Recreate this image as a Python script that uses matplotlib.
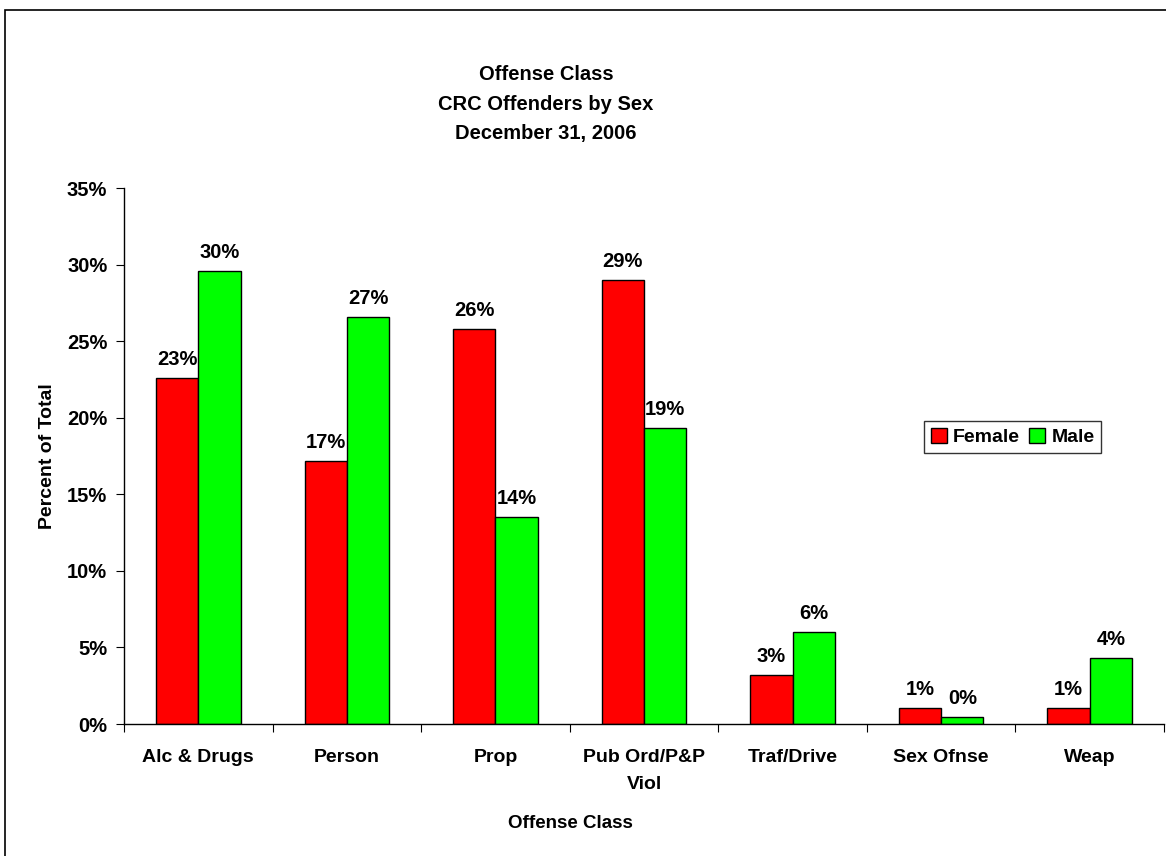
import matplotlib
matplotlib.use("Agg")
import matplotlib.pyplot as plt
from matplotlib.patches import Rectangle
import numpy as np

categories = ["Alc & Drugs", "Person", "Prop", "Pub Ord/P&P\nViol", "Traf/Drive", "Sex Ofnse", "Weap"]
female = [22.6, 17.2, 25.8, 29.0, 3.2, 1.05, 1.05]
male = [29.6, 26.6, 13.5, 19.3, 6.0, 0.45, 4.3]
female_labels = ["23%", "17%", "26%", "29%", "3%", "1%", "1%"]
male_labels = ["30%", "27%", "14%", "19%", "6%", "0%", "4%"]
yticks = [0, 5, 10, 15, 20, 25, 30, 35]

plt.rcParams['font.family'] = ['Liberation Sans', 'DejaVu Sans']
plt.rcParams['font.weight'] = 'bold'

W, H = 1166, 856
fig = plt.figure(figsize=(W / 100, H / 100), dpi=100)
fig.patch.set_facecolor("white")

# border
fig.add_artist(Rectangle((5 / W, -0.05), 1.1, 1 - 10 / H + 0.05, transform=fig.transFigure,
                         fill=False, edgecolor="black", linewidth=1.2))

left, right = 124 / W, 1164 / W
bottom, top = 1 - 724 / H, 1 - 188 / H
ax = fig.add_axes([left, bottom, right - left, top - bottom])

x = np.arange(len(categories))
bw = 0.285
ax.bar(x - bw / 2, female, bw, color="#ff0000", edgecolor="black", linewidth=1, label="Female")
ax.bar(x + bw / 2, male, bw, color="#00ff00", edgecolor="black", linewidth=1, label="Male")

lab_fs = 14.5
for i in range(len(categories)):
    ax.text(x[i] - bw / 2, female[i] + 0.85, female_labels[i], ha="center", va="baseline",
            fontsize=lab_fs, fontweight="bold")
    ax.text(x[i] + bw / 2, male[i] + 0.85, male_labels[i], ha="center", va="baseline",
            fontsize=lab_fs, fontweight="bold")

ax.set_xlim(-0.5, len(categories) - 0.5)
ax.set_ylim(0, 35)
ax.set_yticks(yticks)
ax.set_yticklabels([f"{v}%" for v in yticks], fontsize=14.5, fontweight="bold")
ax.set_xticks(np.arange(len(categories) + 1) - 0.5)
ax.set_xticklabels([])
ax.set_xticks(x, minor=True)
ax.set_xticklabels(categories, minor=True, fontsize=14, fontweight="bold", linespacing=1.75)
ax.tick_params(axis="x", which="minor", length=0, pad=18)
ax.tick_params(axis="x", which="major", length=6, direction="out")
ax.tick_params(axis="y", length=6, direction="out", pad=6)
for s in ["top", "right"]:
    ax.spines[s].set_visible(False)
for s in ["left", "bottom"]:
    ax.spines[s].set_linewidth(1)

ax.set_ylabel("Percent of Total", fontsize=14, fontweight="bold", labelpad=8)
fig.text(570 / W, 1 - 823 / H, "Offense Class", ha="center", va="center", fontsize=13.5, fontweight="bold")

fig.text(546 / W, 1 - 104 / H, "Offense Class\nCRC Offenders by Sex\nDecember 31, 2006",
         ha="center", va="center", fontsize=14.5, fontweight="bold", linespacing=1.68)

leg = ax.legend(loc="upper left", bbox_to_anchor=((924 / W - left) / (right - left), (1 - 421 / H - bottom) / (top - bottom)),
                ncol=2, frameon=True, fancybox=False, edgecolor="black", fontsize=14,
                handlelength=0.85, handleheight=0.85, handletextpad=0.3, columnspacing=0.45,
                borderpad=0.35, borderaxespad=0)
leg.get_frame().set_linewidth(1)

fig.savefig("out.png", dpi=100, facecolor="white")
